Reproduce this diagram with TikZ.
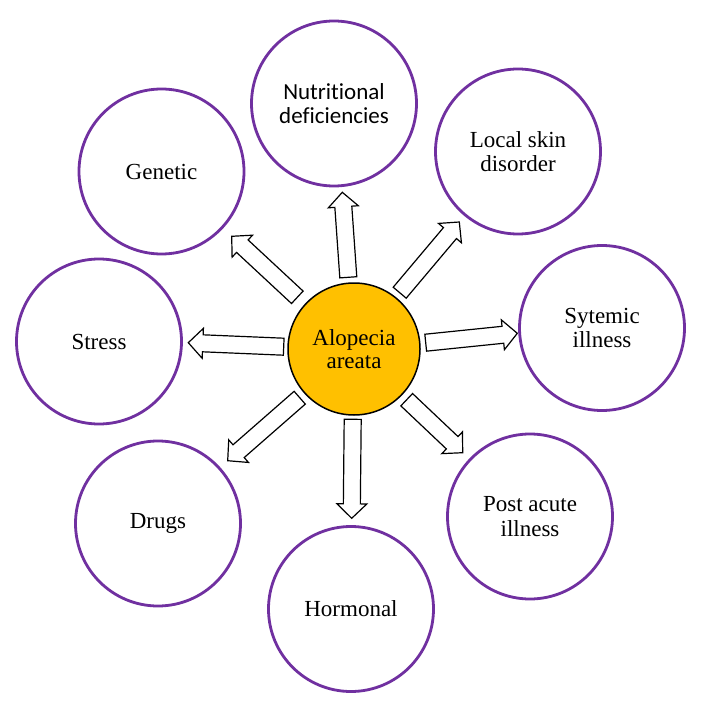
\documentclass[tikz,border=0pt]{standalone}
\usepackage{fontspec}
\setmainfont{Liberation Serif}
\newfontfamily\timesfont{Liberation Serif}
\newfontfamily\calibrifont[Ligatures=NoCommon]{Carlito}
\usetikzlibrary{calc}
\definecolor{ringpurple}{HTML}{7030A0}
\definecolor{coregold}{HTML}{FFC000}
\tikzset{
  cause/.style={circle, draw=ringpurple, line width=2.8pt, fill=white, minimum size=165pt, inner sep=0pt, align=center, font=\timesfont\fontsize{23}{24.5}\selectfont},
  core/.style={circle, draw=black, line width=1.5pt, fill=coregold, minimum size=132pt, inner sep=0pt, align=center, font=\timesfont\fontsize{23}{23.5}\selectfont},
  blockarrow/.style={draw=black, line width=1.2pt, fill=white, line join=miter}
}
\newcommand\blockarrow[2]{%
  \coordinate (hb) at ($(#2)!14.5pt!(#1)$);
  \draw[blockarrow] ($(#1)!8.5pt!90:(#2)$) -- ($(hb)!8.5pt!90:(#2)$) -- ($(hb)!15pt!90:(#2)$) -- (#2)
    -- ($(hb)!15pt!-90:(#2)$) -- ($(hb)!8.5pt!-90:(#2)$) -- ($(#1)!8.5pt!-90:(#2)$) -- cycle;
}
\begin{document}
\begin{tikzpicture}[x=1pt, y=-1pt]
\useasboundingbox (0,0) rectangle (710,714);
\fill[white] (0,0) rectangle (710,714);
% nodes
\node[core] (c) at (354,349) {Alopecia\\areata};
\node[cause, font=\calibrifont\fontsize{23}{23.5}\selectfont] (nut) at (334,103.5) {Nutritional\\deficiencies};
\node[cause] (skin) at (518,151.5) {Local skin\\disorder};
\node[cause] (sys) at (602,328) {Sytemic\\illness};
\node[cause] (post) at (530,516.5) {Post acute\\illness};
\node[cause] (hor) at (351,609) {Hormonal};
\node[cause] (drg) at (158,523.5) {Drugs};
\node[cause] (str) at (99,341.5) {Stress};
\node[cause] (gen) at (161.5,171.5) {Genetic};
% arrow ends
\coordinate (t1) at (348.3,277.3); \coordinate (h1) at (342.3,192.3);
\coordinate (t2) at (399.7,292.7); \coordinate (h2) at (459.3,222);
\coordinate (t3) at (425.7,342.7); \coordinate (h3) at (517.3,333.3);
\coordinate (t4) at (406.7,399.7); \coordinate (h4) at (462.7,452.7);
\coordinate (t5) at (352.7,419.3); \coordinate (h5) at (351.7,518.3);
\coordinate (t6) at (299.7,397.7); \coordinate (h6) at (227.7,460.7);
\coordinate (t7) at (283.7,346.7); \coordinate (h7) at (188.3,342.7);
\coordinate (t8) at (297.3,297.3); \coordinate (h8) at (231.7,236.3);
\blockarrow{t1}{h1}
\blockarrow{t2}{h2}
\blockarrow{t3}{h3}
\blockarrow{t4}{h4}
\blockarrow{t5}{h5}
\blockarrow{t6}{h6}
\blockarrow{t7}{h7}
\blockarrow{t8}{h8}
\end{tikzpicture}
\end{document}
